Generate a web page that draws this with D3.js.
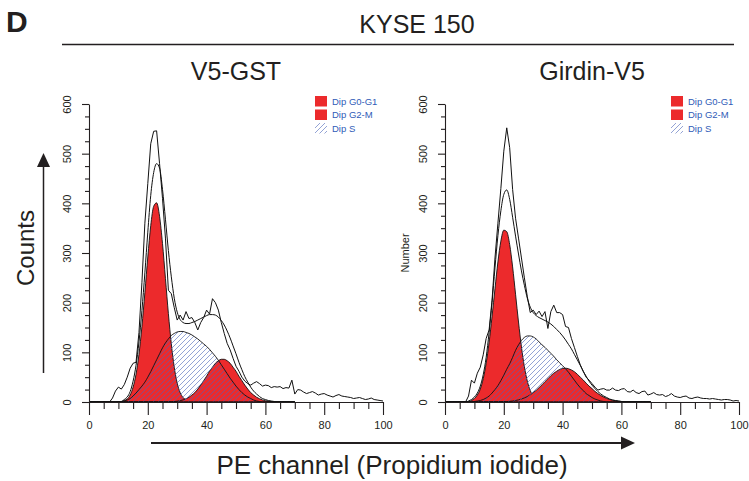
<!DOCTYPE html>
<html>
<head>
<meta charset="utf-8">
<script src="https://cdn.jsdelivr.net/npm/d3@7"></script>
<style>
  html, body { margin: 0; padding: 0; background: #fff; }
  svg { display: block; font-family: "Liberation Sans", Arial, Helvetica, sans-serif; }
</style>
</head>
<body>
<svg id="chart" width="749" height="481"></svg>
<script>
// Histogram channels (PE channel) and the channels over which the fitted model is drawn
const channels = d3.range(0, 101);
const modelChannels = d3.range(0, 71);

// ---- V5-GST ----
const v5gstRaw = [
  0,0,0,0,0,0,0,0,8,22,
  30,26,35,50,68,78,80,140,240,360,
  440,520,545,546,480,410,330,225,218,190,
  165,175,165,182,168,170,160,145,160,170,
  185,177,208,200,185,160,138,118,105,88,
  72,62,50,42,37,34,38,41,37,32,
  34,33,29,31,30,31,27,29,28,44,
  16,25,24,20,17,19,21,18,14,16,
  17,14,12,10,13,15,12,11,10,9,
  7,8,9,7,5,6,8,5,4,3,
  2];
const v5gstTotal = [
  0,0,0,0,0,0,0,0,0,0,
  0.5,1,5,10,21,42,74,121,184,260,
  342,416,462,480,471,428,368,305,252,209,
  181,166,160,158,158,160,162,165,168,171,
  174,176,176,175,171,164,155,143,129,113,
  97,80,65,51,40,30,22,16,11,7,
  5,3,2,1,0.5,0,0,0,0,0,
  0];
const v5gstG0G1 = [
  0,0,0,0,0,0,0,0,0,0,
  0,0.5,3,6,14,30,56,96,152,220,
  292,355,394,401,374,319,249,178,117,70,
  38,19,9,4,1.5,0.5,0,0,0,0,
  0,0,0,0,0,0,0,0,0,0,
  0,0,0,0,0,0,0,0,0,0,
  0,0,0,0,0,0,0,0,0,0,
  0];
const v5gstS = [
  0,0,0,0,0,0,0,0,0,0,
  0,1,2,4,7,12,18,25,32,40,
  50,61,73,85,97,109,119,127,134,138,
  141,142,142,140,138,135,131,127,122,117,
  112,106,99,92,84,75,66,57,48,40,
  32,25,19,14,10,7,4,2,1,0,
  0,0,0,0,0,0,0,0,0,0,
  0];
const v5gstG2M = [
  0,0,0,0,0,0,0,0,0,0,
  0,0,0,0,0,0,0,0,0,0,
  0,0,0,0,0,0,0,0,0.5,0.9,
  1.6,2.7,4.2,6.5,9.6,14,19,26,34,43,
  52,62,70,78,83,86,86,83,78,70,
  62,52,43,34,26,19,14,9.6,6.5,4.2,
  2.7,1.6,0.9,0.5,0.3,0,0,0,0,0,
  0];

// ---- Girdin-V5 ----
const girdinRaw = [
  0,0,0,0,0,0,0,0,12,44,
  38,58,70,95,128,145,205,290,360,430,
  505,552,512,428,370,330,290,250,212,180,
  185,176,183,172,182,148,182,195,180,180,
  176,152,150,128,110,92,75,62,50,44,
  37,30,24,26,27,24,24,28,24,23,
  26,27,21,20,24,19,17,21,22,14,
  16,19,15,14,15,11,13,17,12,10,
  9,11,12,8,7,9,10,8,7,7,
  6,7,6,5,4,5,5,4,2,3,
  2];
const girdinTotal = [
  0,0,0,0,0,0,0,0,2,5,
  10,18,32,55,90,140,200,270,335,385,
  418,427,408,372,334,298,264,235,209,191,
  180,174,170,167,164,161,157,152,146,140,
  133,125,116,107,96,85,74,62,52,42,
  34,27,21,16,12,9,6,4,3,2,
  1,0.5,0,0,0,0,0,0,0,0,
  0];
const girdinG0G1 = [
  0,0,0,0,0,0,0,0,0,3,
  7,14,26,47,78,120,172,228,282,324,
  346,343,317,272,217,161,111,71,42,23,
  12,6,2.5,1,0,0,0,0,0,0,
  0,0,0,0,0,0,0,0,0,0,
  0,0,0,0,0,0,0,0,0,0,
  0,0,0,0,0,0,0,0,0,0,
  0];
const girdinS = [
  0,0,0,0,0,0,0,0,0,0,
  1,2,3,5,8,12,18,25,33,43,
  54,66,77,90,104,115,124,130,133,133,
  131,127,121,115,110,104,98,92,85,79,
  73,67,60,52,44,36,29,23,17,13,
  9,6,4,2,1,0,0,0,0,0,
  0,0,0,0,0,0,0,0,0,0,
  0];
const girdinG2M = [
  0,0,0,0,0,0,0,0,0,0,
  0,0,0,0,0,0,0,0,0.2,0.4,
  0.6,0.9,1.3,2,3,4.2,6,8.2,11,14.5,
  19,23.4,29,34.6,41,46.8,53,58,62,65.6,
  67.5,68,67,64.5,61,56,50,44.4,38,32,
  27,21.4,17,13,10,7.2,5,3.7,2.5,1.7,
  1.1,0.7,0.4,0.2,0,0,0,0,0,0,
  0];

// Axis ticks and legend entries
const xMajorTicks = [0, 20, 40, 60, 80, 100];
const xMinorTicks = d3.range(0, 101, 5).filter(v => v % 20 !== 0);
const yMajorTicks = [0, 100, 200, 300, 400, 500, 600];
const yMinorTicks = d3.range(0, 601, 25).filter(v => v % 100 !== 0);
const legendLabels = ["Dip G0-G1", "Dip G2-M", "Dip S"];

const panels = [
  { title: "V5-GST", left: 89, yLabel: "", raw: v5gstRaw, total: v5gstTotal, g0g1: v5gstG0G1, s: v5gstS, g2m: v5gstG2M },
  { title: "Girdin-V5", left: 445, yLabel: "Number", raw: girdinRaw, total: girdinTotal, g0g1: girdinG0G1, s: girdinS, g2m: girdinG2M }
];

const RED = "#ec2a2c";
const HATCH = "#4a64b8";
const INK = "#231f20";
const BLUE_TEXT = "#2f5bb7";
const plotW = 294, plotTop = 104, plotBottom = 402;

const svg = d3.select("#chart");

// diagonal hatch used for the S-phase component
const defs = svg.append("defs");
const pat = defs.append("pattern")
  .attr("id", "hatch").attr("patternUnits", "userSpaceOnUse")
  .attr("width", 5).attr("height", 5);
pat.append("path")
  .attr("d", "M-1,1 L1,-1 M0,5 L5,0 M4,6 L6,4")
  .attr("stroke", HATCH).attr("stroke-width", 0.6).attr("fill", "none");

// Figure heading
svg.append("text").attr("x", 6).attr("y", 32)
  .attr("font-size", 30).attr("font-weight", "bold").attr("fill", INK).text("D");
svg.append("text").attr("x", 417).attr("y", 33).attr("text-anchor", "middle")
  .attr("font-size", 25).attr("fill", INK).text("KYSE 150");
svg.append("line").attr("x1", 62).attr("x2", 734).attr("y1", 44.5).attr("y2", 44.5)
  .attr("stroke", INK).attr("stroke-width", 1.5);

panels.forEach(p => {
  const x = d3.scaleLinear().domain([0, 100]).range([p.left, p.left + plotW]);
  const y = d3.scaleLinear().domain([0, 600]).range([plotBottom, plotTop]);
  const g = svg.append("g");

  g.append("text").attr("x", p.left + plotW / 2).attr("y", 80).attr("text-anchor", "middle")
    .attr("font-size", 25).attr("fill", INK).text(p.title);

  const area = d3.area()
    .x((d, i) => x(modelChannels[i])).y0(y(0)).y1(d => y(d))
    .curve(d3.curveMonotoneX);
  const smooth = d3.line()
    .x((d, i) => x(modelChannels[i])).y(d => y(d))
    .curve(d3.curveMonotoneX);
  const jagged = d3.line()
    .x((d, i) => x(channels[i])).y(d => y(d));

  // model components
  g.append("path").datum(p.g0g1).attr("d", area)
    .attr("fill", RED).attr("stroke", "#111").attr("stroke-width", 0.9);
  g.append("path").datum(p.g2m).attr("d", area)
    .attr("fill", RED).attr("stroke", "#111").attr("stroke-width", 0.9);
  g.append("path").datum(p.s).attr("d", area)
    .attr("fill", "url(#hatch)").attr("stroke", "#111").attr("stroke-width", 0.9);

  // fitted total and measured histogram
  g.append("path").datum(p.total).attr("d", smooth)
    .attr("fill", "none").attr("stroke", "#111").attr("stroke-width", 1);
  g.append("path").datum(p.raw).attr("d", jagged)
    .attr("fill", "none").attr("stroke", "#111").attr("stroke-width", 1);

  // x axis
  const xa = g.append("g").attr("transform", `translate(0,${plotBottom})`)
    .call(d3.axisBottom(x).tickValues(xMajorTicks).tickSize(13).tickSizeOuter(0).tickPadding(6));
  g.append("g").attr("transform", `translate(0,${plotBottom})`)
    .call(d3.axisBottom(x).tickValues(xMinorTicks).tickSize(7).tickFormat(""))
    .call(s => s.select(".domain").remove());
  xa.selectAll("text").attr("font-size", 11).attr("fill", INK)
    .attr("font-family", "'Liberation Sans', Arial, sans-serif");

  // y axis with rotated labels
  const ya = g.append("g").attr("transform", `translate(${p.left},0)`)
    .call(d3.axisLeft(y).tickValues(yMajorTicks).tickSize(7).tickSizeOuter(0));
  g.append("g").attr("transform", `translate(${p.left},0)`)
    .call(d3.axisLeft(y).tickValues(yMinorTicks).tickSize(4).tickFormat(""))
    .call(s => s.select(".domain").remove());
  ya.selectAll("text")
    .attr("transform", "rotate(-90)")
    .attr("x", 0).attr("y", -18).attr("dy", 0)
    .attr("text-anchor", "middle")
    .attr("font-size", 11).attr("fill", INK)
    .attr("font-family", "'Liberation Sans', Arial, sans-serif");

  g.selectAll(".domain, .tick line").attr("stroke", INK).attr("stroke-width", 1.1);

  if (p.yLabel) {
    g.append("text").attr("transform", `translate(409,${(plotTop + plotBottom) / 2}) rotate(-90)`)
      .attr("text-anchor", "middle").attr("font-size", 11).attr("fill", INK).text(p.yLabel);
  }

  // legend
  const lx = p.left + plotW - 68;
  const lg = g.append("g").attr("transform", `translate(${lx},96)`);
  legendLabels.forEach((lab, i) => {
    const row = lg.append("g").attr("transform", `translate(0,${i * 13.5})`);
    row.append("rect").attr("width", 12).attr("height", 10.5)
      .attr("fill", i < 2 ? RED : "url(#hatch)");
    row.append("text").attr("x", 17).attr("y", 8.8).attr("font-size", 9.5)
      .attr("fill", BLUE_TEXT).text(lab);
  });
});

// Shared axis captions with arrows
svg.append("line").attr("x1", 43.5).attr("x2", 43.5).attr("y1", 373).attr("y2", 165)
  .attr("stroke", INK).attr("stroke-width", 1.5);
svg.append("path").attr("d", "M43.5,153 L37,167 L50,167 Z").attr("fill", INK);
svg.append("text").attr("transform", "translate(34,248) rotate(-90)")
  .attr("text-anchor", "middle").attr("font-size", 24).attr("fill", INK).text("Counts");

svg.append("line").attr("x1", 151).attr("x2", 623).attr("y1", 443).attr("y2", 443)
  .attr("stroke", INK).attr("stroke-width", 1.8);
svg.append("path").attr("d", "M635,443 L621,436.5 L621,449.5 Z").attr("fill", INK);
svg.append("text").attr("x", 392).attr("y", 474).attr("text-anchor", "middle")
  .attr("font-size", 26).attr("fill", INK).text("PE channel (Propidium iodide)");
</script>
</body>
</html>
